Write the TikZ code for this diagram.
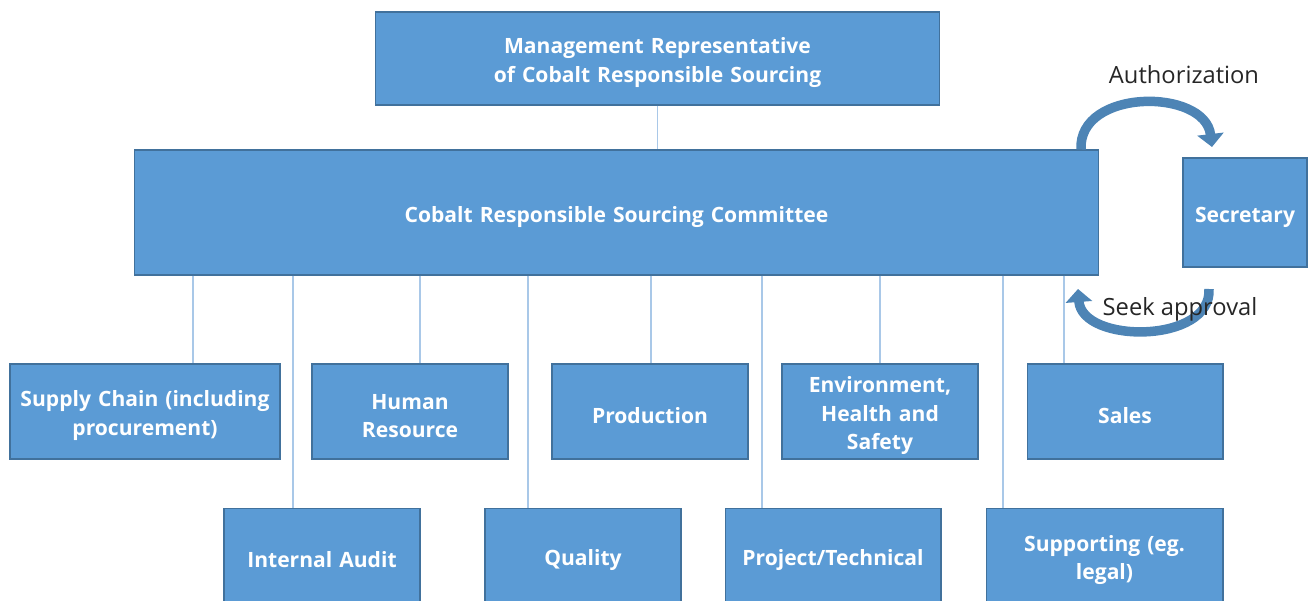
\documentclass[tikz,border=0pt]{standalone}
\usepackage{fontspec}
\setmainfont{Open Sans}
\usepackage{tikz}
\usetikzlibrary{arrows.meta}
\definecolor{boxblue}{HTML}{5B9BD5}
\definecolor{boxedge}{HTML}{41719C}
\definecolor{linkblue}{HTML}{A9C8E8}
\definecolor{labelgray}{HTML}{262626}

\tikzset{
  unit/.style={draw=boxedge, line width=0.6pt, fill=boxblue, text=white,
    font=\fontsize{12}{16}\selectfont\bfseries, align=center,
    text width=3.6cm, inner sep=0pt, minimum height=1.9cm, minimum width=3.92cm,
    execute at begin node={\rule{0pt}{13.7pt}}},
  link/.style={draw=linkblue, line width=0.7pt},
  loop arrow/.style={draw=boxblue!85!black, line width=0.19cm,
    -{Triangle[length=0.26cm,width=0.52cm]}},
  loop label/.style={text=labelgray, font=\fontsize{13.5}{16}\selectfont}
}

\begin{document}
\begin{tikzpicture}[x=0.02cm, y=-0.02cm]
  \clip (0,0) rectangle (1309,601);
  \useasboundingbox (0,0) rectangle (1309,601);
  % Top levels
  \node[unit, text width=7cm, minimum width=11.3cm, minimum height=1.86cm] (rep)
    at (657.5,58.5) {Management Representative\\of Cobalt Responsible Sourcing};
  \node[unit, text width=9cm, minimum width=19.3cm, minimum height=2.5cm] (comm)
    at (616.5,212.5) {Cobalt Responsible Sourcing Committee};
  \node[unit, text width=2.3cm, minimum width=2.48cm, minimum height=2.18cm] (sec)
    at (1245,212.5) {Secretary};
  % First row of departments
  \node[unit, text width=5.2cm, minimum width=5.4cm] (supply) at (145,411.5)
    {Supply Chain (including\\procurement)};
  \node[unit] (hr) at (410,411.5) {Human\\Resource};
  \node[unit] (prod) at (650,411.5) {Production};
  \node[unit] (ehs) at (880,411.5) {Environment,\\Health and\\Safety};
  \node[unit] (sales) at (1125,411.5) {Sales};
  % Second row of departments
  \node[unit] (audit) at (322,556) {Internal Audit};
  \node[unit] (quality) at (583,556) {Quality};
  \node[unit, text width=4cm, minimum width=4.32cm] (proj) at (833,556)
    {Project/Technical};
  \node[unit, text width=4.4cm, minimum width=4.74cm] (support) at (1104.5,556)
    {Supporting (eg.\\legal)};
  % Links
  \draw[link] (rep.south) -- (comm.north -| rep.south);
  \draw[link] (comm.south -| 193,0) -- (supply.north -| 193,0);
  \draw[link] (comm.south -| 293,0) -- (audit.north -| 293,0);
  \draw[link] (comm.south -| 420,0) -- (hr.north -| 420,0);
  \draw[link] (comm.south -| 528,0) -- (quality.north -| 528,0);
  \draw[link] (comm.south -| 651,0) -- (prod.north -| 651,0);
  \draw[link] (comm.south -| 762,0) -- (proj.north -| 762,0);
  \draw[link] (comm.south -| 880,0) -- (ehs.north -| 880,0);
  \draw[link] (comm.south -| 1003,0) -- (support.north -| 1003,0);
  \draw[link] (comm.south -| 1064,0) -- (sales.north -| 1064,0);
  % Authorization / approval loop
  \coordinate (auth from) at (comm.north -| 1081,0);
  \coordinate (auth to) at (1212,147);
  \coordinate (seek from) at (1209,289);
  \coordinate (seek to) at (1078,289);
  \draw[loop arrow] (auth from) .. controls (1078,88) and (1205,88) .. (auth to);
  \draw[loop arrow] (seek from) .. controls (1212,344) and (1082,344) .. (seek to);
  \node[loop label] (auth) at (1184,75) {Authorization};
  \node[loop label] (seek) at (1180,309) {Seek approval};
\end{tikzpicture}
\end{document}
